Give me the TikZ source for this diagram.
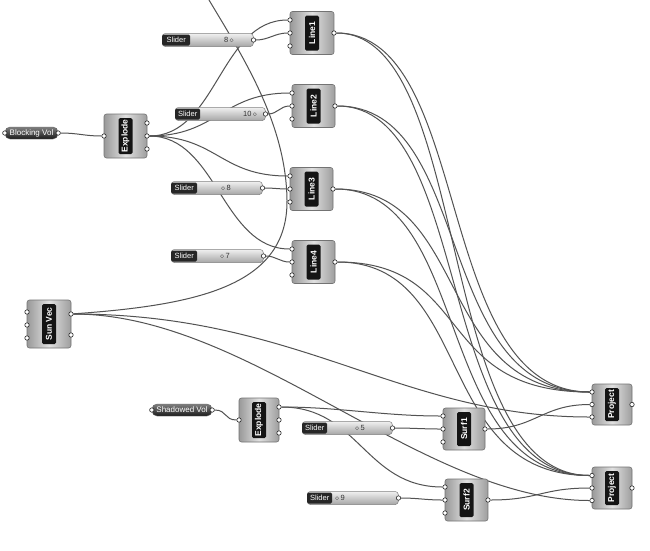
\documentclass[tikz,border=0pt]{standalone}
\usepackage{fontspec}
\setmainfont{Liberation Sans}
\usetikzlibrary{calc}
\pgfdeclarelayer{bglayer}
\pgfdeclarelayer{wirelayer}
\pgfsetlayers{bglayer,wirelayer,main}
\tikzset{
 comp/.style={draw=black!55, line width=0.6pt, rounded corners=2.5pt, left color=black!40, right color=black!38, middle color=black!12, inner sep=0pt},
 clab/.style={fill=black!92, text=white, rounded corners=1.5pt, rotate=90, minimum height=14pt, inner sep=1pt, font=\bfseries\fontsize{8.5}{9}\selectfont},
 port/.style={circle, draw=black!85, fill=white, line width=0.6pt, minimum size=4.4pt, inner sep=0pt},
 sbar/.style={draw=black!50, line width=0.5pt, rounded corners=3pt, top color=black!6, bottom color=black!35, minimum height=13pt, inner sep=0pt},
 slab/.style={fill=black!85, text=white, rounded corners=1.5pt, minimum height=11pt, inner sep=1pt, font=\fontsize{7.5}{8}\selectfont},
 sval/.style={font=\fontsize{7.5}{8}\selectfont, inner sep=0pt, text=black!80},
 param/.style={draw=black!60, rounded corners=5pt, top color=black!50, bottom color=black!90, text=white, minimum height=12pt, inner sep=1pt, font=\fontsize{8}{9}\selectfont},
 wire/.style={draw=black!68, line width=1pt},
}
% component: name, cx, cy, w, h, label
\newcommand\ghcomp[6]{%
 \node[comp, minimum width=#4, minimum height=#5] (#1) at (#2,#3) {};
 \node[clab, minimum width={#5-8}] (#1-t) at (#1.center) {#6};
}
% three inputs + one output: name, left x, right x, cy, spacing
\newcommand\ghports[5]{%
 \node[port] (#1-i1) at (#2,#4-#5) {};
 \node[port] (#1-i2) at (#2,#4) {};
 \node[port] (#1-i3) at (#2,#4+#5) {};
 \node[port] (#1-o) at (#3,#4) {};
}
% slider: name, x0, label end, bar end, cy, value, value x
\newcommand\ghslider[7]{%
 \node[sbar, minimum width={#4-#2}, anchor=west] (#1) at (#2,#5) {};
 \node[slab, minimum width={#3-#2}, anchor=west] (#1-l) at (#2,#5) {Slider};
 \node[sval] (#1-v) at (#7,#5) {#6};
 \node[port] (#1-o) at (#1.east) {};
}
\begin{document}
\begin{tikzpicture}[x=1pt,y=-1pt]
\begin{pgfonlayer}{bglayer}
\fill[white] (0,0) rectangle (650,550);
\end{pgfonlayer}
\useasboundingbox (0,0) rectangle (650,550);

% parameters
\node[param, minimum width=53] (BV) at (31.5,133) {Blocking Vol};
\node[port] (BV-i) at (BV.west) {};
\node[port] (BV-o) at (BV.east) {};
\node[param, minimum width=60] (SH) at (182,410) {Shadowed Vol};
\node[port] (SH-i) at (SH.west) {};
\node[port] (SH-o) at (SH.east) {};

% components
\ghcomp{L1}{312}{33}{44}{43}{Line1}
\ghports{L1}{290}{334}{33}{13}
\ghcomp{L2}{313.5}{106}{43}{43}{Line2}
\ghports{L2}{292}{335}{106}{13}
\ghcomp{L3}{311.5}{189}{43}{43}{Line3}
\ghports{L3}{290}{333}{189}{13}
\ghcomp{L4}{313.5}{262}{43}{43}{Line4}
\ghports{L4}{292}{335}{262}{13}

\ghcomp{EX}{125.5}{136}{43}{44}{Explode}
\node[port] (EX-i) at (104,136) {};
\node[port] (EX-o1) at (147,123) {};
\node[port] (EX-o2) at (147,136) {};
\node[port] (EX-o3) at (147,149) {};

\ghcomp{SV}{49}{324}{44}{48}{Sun Vec}
\node[port] (SV-i1) at (27,312) {};
\node[port] (SV-i2) at (27,325) {};
\node[port] (SV-i3) at (27,338) {};
\node[port] (SV-o1) at (71,314) {};
\node[port] (SV-o2) at (71,335) {};

\ghcomp{EX2}{259}{420}{40}{44}{Explode}
\node[port] (EX2-i) at (239,420) {};
\node[port] (EX2-o1) at (279,407) {};
\node[port] (EX2-o2) at (279,420) {};
\node[port] (EX2-o3) at (279,433) {};

\ghcomp{SF1}{464}{429}{42}{42}{Surf1}
\ghports{SF1}{443}{485}{429}{13}
\ghcomp{SF2}{466.5}{500}{43}{42}{Surf2}
\ghports{SF2}{445}{488}{500}{13}

\ghcomp{P1}{612}{404.5}{40}{41}{Project}
\ghports{P1}{592}{632}{404.5}{12.5}
\ghcomp{P2}{612}{488}{40}{42}{Project}
\ghports{P2}{592}{632}{488}{12.5}

% sliders
\ghslider{S1}{162}{190}{253}{40}{8\,$\diamond$}{229}
\ghslider{S2}{175}{200}{265}{114}{10\,$\diamond$}{250}
\ghslider{S3}{171}{197}{262}{188}{$\diamond$\,8}{226}
\ghslider{S4}{171}{197}{263}{256}{$\diamond$\,7}{225}
\ghslider{S5}{302}{327}{392}{428}{$\diamond$\,5}{360}
\ghslider{S6}{307}{332}{398}{498}{$\diamond$\,9}{340}

\coordinate (svtop) at (209,0);
\coordinate (svbend) at (287,200);

\begin{pgfonlayer}{wirelayer}
\draw[wire] (BV-o) .. controls +(20,0) and +(-20,0) .. (EX-i);
\draw[wire] (SH-o) .. controls +(15,0) and +(-15,0) .. (EX2-i);
\foreach \n in {L1,L2,L3,L4}
  \draw[wire] (EX-o2) .. controls +(70,0) and +(-70,0) .. (\n-i1);
\draw[wire] (S1-o) .. controls +(15,0) and +(-15,0) .. (L1-i2);
\draw[wire] (S2-o) .. controls +(12,0) and +(-12,0) .. (L2-i2);
\draw[wire] (S3-o) .. controls +(12,0) and +(-12,0) .. (L3-i2);
\draw[wire] (S4-o) .. controls +(12,0) and +(-12,0) .. (L4-i2);
\draw[wire] (SV-o1) .. controls (200,305) and (288,285) .. (svbend)
  .. controls (286,125) and (245,60) .. (svtop);
\draw[wire] (SV-o1) .. controls +(229,0) and +(-192,0) .. (P1-i3);
\draw[wire] (SV-o1) .. controls +(180,0) and +(-170,0) .. (P2-i3);
\foreach \n in {L1,L2,L3,L4} {
  \draw[wire] (\n-o) .. controls +(140,0) and +(-160,0) .. (P1-i1);
  \draw[wire] (\n-o) .. controls +(140,0) and +(-160,0) .. (P2-i1);
}
\draw[wire] (EX2-o1) .. controls +(60,0) and +(-60,0) .. (SF1-i1);
\draw[wire] (EX2-o1) .. controls +(80,0) and +(-80,0) .. (SF2-i1);
\draw[wire] (S5-o) .. controls +(20,0) and +(-20,0) .. (SF1-i2);
\draw[wire] (S6-o) .. controls +(20,0) and +(-20,0) .. (SF2-i2);
\draw[wire] (SF1-o) .. controls +(50,0) and +(-50,0) .. (P1-i2);
\draw[wire] (SF2-o) .. controls +(50,0) and +(-50,0) .. (P2-i2);
\end{pgfonlayer}
\end{tikzpicture}
\end{document}
